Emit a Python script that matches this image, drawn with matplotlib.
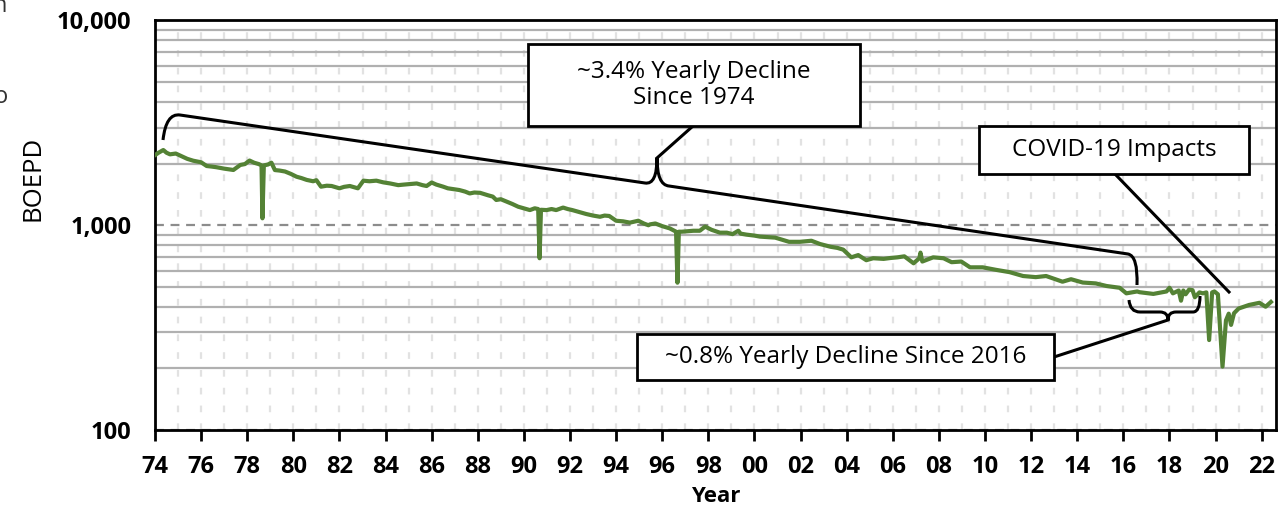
import numpy as np
import matplotlib
matplotlib.use("Agg")
import matplotlib.pyplot as plt
from matplotlib.path import Path
from matplotlib.patches import PathPatch, Rectangle
from matplotlib.ticker import FixedLocator, LogLocator, NullFormatter

plt.rcParams['font.family'] = ['Open Sans', 'DejaVu Sans']

# monthly-ish production (year, BOEPD)
years = [1974.00, 1974.15, 1974.36, 1974.50, 1974.65, 1974.90, 1975.20, 1975.40, 1975.66,
         1976.00, 1976.24, 1976.45, 1976.67, 1977.00, 1977.40, 1977.70, 1977.90, 1978.10,
         1978.30, 1978.50, 1978.62, 1978.66, 1978.72, 1978.90, 1979.05, 1979.20, 1979.40,
         1979.64, 1979.90, 1980.14, 1980.35, 1980.58, 1980.86, 1981.00, 1981.20, 1981.45,
         1981.66, 1982.00, 1982.20, 1982.45, 1982.80, 1983.04, 1983.30, 1983.60, 1983.90,
         1984.20, 1984.55, 1984.80, 1985.10, 1985.35, 1985.60, 1985.78, 1986.00, 1986.20,
         1986.50, 1986.70, 1986.95, 1987.20, 1987.45, 1987.65, 1987.85, 1988.10, 1988.45,
         1988.65, 1988.80, 1989.00, 1989.25, 1989.50, 1989.75, 1990.00, 1990.26, 1990.47,
         1990.62, 1990.68, 1990.74, 1990.98, 1991.20, 1991.40, 1991.70, 1991.90, 1992.10,
         1992.40, 1992.70, 1993.00, 1993.30, 1993.50, 1993.70, 1994.00, 1994.30, 1994.60,
         1994.96, 1995.20, 1995.40, 1995.47, 1995.70, 1996.00, 1996.33, 1996.60, 1996.66,
         1996.72, 1996.85, 1997.10, 1997.35, 1997.63, 1997.86, 1998.14, 1998.50, 1998.80,
         1999.05, 1999.30, 1999.40, 1999.65, 2000.00, 2000.24, 2000.55, 2000.90, 2001.20,
         2001.50, 2001.97, 2002.47, 2002.84, 2003.30, 2003.60, 2003.85, 2004.20, 2004.50,
         2004.85, 2005.15, 2005.60, 2005.90, 2006.20, 2006.50, 2006.90, 2007.15, 2007.20,
         2007.28, 2007.50, 2007.75, 2008.20, 2008.55, 2008.97, 2009.35, 2009.90, 2010.50,
         2011.07, 2011.65, 2012.20, 2012.65, 2012.95, 2013.36, 2013.73, 2014.24, 2014.80,
         2015.27, 2015.84, 2016.13, 2016.60, 2016.70, 2017.30, 2017.87, 2018.00, 2018.15,
         2018.40, 2018.50, 2018.60, 2018.70, 2018.85, 2019.00, 2019.10, 2019.30, 2019.45,
         2019.60, 2019.72, 2019.85, 2019.95, 2020.10, 2020.30, 2020.45, 2020.57, 2020.67,
         2020.80, 2021.00, 2021.45, 2021.90, 2022.17, 2022.40]
boepd = [2200, 2260, 2330, 2260, 2220, 2240, 2160, 2110, 2066,
         2030, 1947, 1935, 1920, 1890, 1862, 1970, 1990, 2070,
         2020, 1990, 1960, 1081, 1960, 1980, 2020, 1860, 1850,
         1830, 1780, 1726, 1700, 1665, 1640, 1660, 1543, 1560,
         1555, 1515, 1540, 1555, 1515, 1651, 1640, 1651, 1620,
         1600, 1570, 1580, 1590, 1600, 1570, 1555, 1617, 1580,
         1543, 1515, 1500, 1486, 1460, 1430, 1445, 1440, 1400,
         1380, 1329, 1340, 1305, 1270, 1232, 1210, 1186, 1210,
         1200, 690, 1190, 1186, 1200, 1186, 1220, 1200, 1186,
         1160, 1135, 1115, 1100, 1115, 1110, 1052, 1045, 1030,
         1052, 1020, 1000, 1010, 1020, 990, 965, 930, 524,
         930, 930, 935, 940, 940, 985, 950, 920, 920,
         905, 940, 910, 900, 890, 880, 875, 870, 850,
         830, 830, 840, 810, 785, 775, 760, 697, 715,
         675, 690, 685, 692, 697, 705, 652, 690, 735,
         665, 680, 697, 690, 660, 665, 623, 623, 605,
         590, 565, 558, 565, 550, 530, 545, 525, 520,
         505, 495, 465, 475, 471, 462, 475, 495, 465,
         480, 428, 480, 460, 485, 482, 445, 470, 465,
         470, 275, 470, 475, 460, 204, 343, 370, 326,
         372, 392, 408, 418, 400, 422]

tick_years = list(range(1974, 2023, 2))
tick_labels = [f"{y % 100:02d}" for y in tick_years]

fig = plt.figure(figsize=(12.86, 5.08), dpi=100)
L, R, T, B = 155, 1276, 20.5, 430
ax = fig.add_axes([L / 1286, (508 - B) / 508, (R - L) / 1286, (B - T) / 508])


def px(x, y):
    # reference pixel -> axes fraction
    return ((x - L) / (R - L), (B - y) / (B - T))


ax.plot(years, boepd, color='#548235', lw=3.0, zorder=3, solid_joinstyle='round')

ax.set_yscale('log')
ax.set_ylim(100, 10000)
ax.set_xlim(1974, 2022.62)

ax.set_yticks([100, 1000, 10000])
ax.set_yticklabels(['100', '1,000', '10,000'], fontweight='bold', fontsize=17)
ax.yaxis.set_minor_locator(LogLocator(base=10, subs=np.arange(2, 10)))
ax.yaxis.set_minor_formatter(NullFormatter())
ax.tick_params(axis='y', which='both', length=0, pad=17)

ax.set_xticks(tick_years)
ax.set_xticklabels(tick_labels, fontweight='bold', fontsize=17)
ax.xaxis.set_minor_locator(FixedLocator(range(1974, 2023)))
ax.tick_params(axis='x', which='major', length=8, width=2, direction='out', pad=10)
ax.tick_params(axis='x', which='minor', length=0)

ax.grid(which='minor', axis='y', color='#b0b0b0', lw=1.6, ls='-', zorder=1)
ax.grid(which='major', axis='y', color='#8c8c8c', lw=1.6, ls=(0, (4, 3)), zorder=1)
ax.grid(which='both', axis='x', color='#e2e2e2', lw=1.6, ls=(0, (3, 5)), zorder=0)
ax.set_axisbelow(True)

for s in ax.spines.values():
    s.set_linewidth(2)
    s.set_color('black')

ax.set_xlabel('Year', fontweight='bold', fontsize=16, labelpad=5)
ax.set_ylabel('BOEPD', fontsize=18.5)
ax.yaxis.set_label_coords(*px(45, 178))

# brace over the long-term decline
M, C, LN = Path.MOVETO, Path.CURVE3, Path.LINETO
brace1 = [(163, 140), (166, 113), (180, 115), (645, 183), (657, 185), (657, 158),
          (657, 185), (669, 186), (1128, 254), (1138, 256), (1137, 285)]
codes1 = [M, C, C, LN, C, C, C, C, LN, C, C]
ax.add_patch(PathPatch(Path([px(*p) for p in brace1], codes1), fill=False, lw=2.2,
                       ec='black', transform=ax.transAxes, zorder=4, clip_on=False))

brace2 = [(1129, 300), (1130, 312), (1140, 312), (1160, 312), (1168, 312), (1168, 320),
          (1168, 312), (1176, 312), (1193, 312), (1200, 312), (1200, 296)]
codes2 = [M, C, C, LN, C, C, C, C, LN, C, C]
ax.add_patch(PathPatch(Path([px(*p) for p in brace2], codes2), fill=False, lw=2.2,
                       ec='black', transform=ax.transAxes, zorder=4, clip_on=False))

# connectors
for (x0, y0), (x1, y1) in [((657, 158), (693, 126)), ((1115, 174), (1229, 292)),
                           ((1054, 357), (1168, 320))]:
    a, b = px(x0, y0), px(x1, y1)
    ax.plot([a[0], b[0]], [a[1], b[1]], color='black', lw=2.2, transform=ax.transAxes,
            zorder=4, clip_on=False)

# text boxes
boxes = [((528, 44, 860, 126), '~3.4% Yearly Decline\nSince 1974'),
         ((979, 126, 1249, 174), 'COVID-19 Impacts'),
         ((637, 334, 1054, 380), '~0.8% Yearly Decline Since 2016')]
for (x0, y0, x1, y1), txt in boxes:
    a = px(x0, y1)
    b = px(x1, y0)
    ax.add_patch(Rectangle(a, b[0] - a[0], b[1] - a[1], transform=ax.transAxes,
                           fc='white', ec='black', lw=2, zorder=5, clip_on=False))
    c = px((x0 + x1) / 2, (y0 + y1) / 2)
    ax.text(c[0], c[1], txt, transform=ax.transAxes, ha='center', va='center',
            fontsize=17.5, linespacing=1.15, zorder=6)

# cut-off fragments at the left edge of the source image
fig.text(-7 / 1286, 1 - 6 / 508, 'n', fontsize=17, ha='left', va='center', color='#333333')
fig.text(-6 / 1286, 1 - 97 / 508, 'o', fontsize=17, ha='left', va='center', color='#333333')

fig.savefig('out.png', dpi=100)
